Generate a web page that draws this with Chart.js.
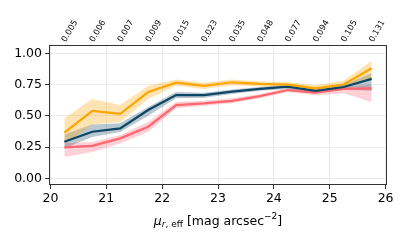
<!DOCTYPE html>
<html><head><meta charset="utf-8">
<script src="https://cdn.jsdelivr.net/npm/chart.js@4/dist/chart.umd.min.js"></script>
<style>html,body{margin:0;padding:0;background:#fff}#wrap{width:411px;height:247px}</style>
</head><body><div id="wrap"><canvas id="c" width="411" height="247"></canvas></div>
<script>
const xs = [20.25,20.75,21.25,21.75,22.25,22.75,23.25,23.75,24.25,24.75,25.25,25.75];
const topLabels = ["0.005","0.006","0.007","0.009","0.015","0.023","0.035","0.048","0.077","0.094","0.105","0.131"];
const xTicks = [20,21,22,23,24,25,26];
const yTicks = [0,0.25,0.5,0.75,1.0];

const orangeVal = [0.365,0.54,0.515,0.69,0.765,0.74,0.768,0.755,0.75,0.72,0.75,0.88];
const orangeHi  = [0.48,0.635,0.586,0.74,0.79,0.765,0.79,0.775,0.77,0.745,0.78,0.94];
const orangeLo  = [0.27,0.43,0.45,0.634,0.74,0.715,0.745,0.735,0.73,0.695,0.72,0.80];

const blueVal = [0.293,0.373,0.40,0.546,0.666,0.666,0.693,0.715,0.733,0.70,0.73,0.795];
const blueHi  = [0.35,0.43,0.44,0.57,0.69,0.685,0.71,0.73,0.75,0.72,0.75,0.84];
const blueLo  = [0.24,0.33,0.37,0.50,0.64,0.645,0.675,0.70,0.715,0.68,0.71,0.70];

const redVal = [0.248,0.26,0.32,0.413,0.586,0.60,0.62,0.658,0.706,0.685,0.715,0.72];
const redHi  = [0.28,0.29,0.345,0.45,0.61,0.62,0.64,0.675,0.72,0.70,0.735,0.75];
const redLo  = [0.17,0.21,0.28,0.37,0.56,0.58,0.60,0.64,0.69,0.665,0.68,0.61];

const pts = arr => arr.map((v,i)=>({x:xs[i],y:v}));
const FONT = 'DejaVu Sans';

function line(data,color){return {data:pts(data),borderColor:color,borderWidth:2.2,pointRadius:0,fill:false,tension:0};}
function bandHi(data){return {data:pts(data),borderWidth:0,borderColor:'rgba(0,0,0,0)',pointRadius:0,fill:false};}
function bandLo(data,color){return {data:pts(data),borderWidth:0,borderColor:'rgba(0,0,0,0)',pointRadius:0,fill:'-1',backgroundColor:color};}

const frame = {
  id:'frame',
  afterDraw(chart){
    const {ctx,chartArea:a}=chart;
    ctx.save();
    ctx.strokeStyle='#333';ctx.lineWidth=1;
    ctx.strokeRect(a.left+0.5,a.top+0.5,a.right-a.left-1,a.bottom-a.top-1);
    const st=chart.scales.xt;
    ctx.font='8.3px "'+FONT+'"';ctx.fillStyle='#000';ctx.textAlign='left';ctx.textBaseline='alphabetic';
    xs.forEach((v,i)=>{
      const px=st.getPixelForValue(v);
      ctx.save();ctx.translate(px+1.5,a.top-2.5);ctx.rotate(-60*Math.PI/180);
      ctx.fillText(topLabels[i],0,0);ctx.restore();
    });
    const cx=(a.left+a.right)/2, cy=222;
    const big='12.5px "'+FONT+'"', ital='italic 12.5px "'+FONT+'"', small='9px "'+FONT+'"', smallI='italic 9px "'+FONT+'"';
    const parts=[
      {t:'\u03bc',f:ital,dy:0},
      {t:'r',f:smallI,dy:3},
      {t:', eff',f:small,dy:3},
      {t:' [mag arcsec',f:big,dy:0},
      {t:'\u22122',f:small,dy:-5},
      {t:']',f:big,dy:0}
    ];
    let w=0;parts.forEach(p=>{ctx.font=p.f;p.w=ctx.measureText(p.t).width;w+=p.w;});
    let x=cx-w/2;
    ctx.fillStyle='#000';ctx.textBaseline='middle';ctx.textAlign='left';
    parts.forEach(p=>{ctx.font=p.f;ctx.fillText(p.t,x,cy+p.dy);x+=p.w;});
    ctx.restore();
  }
};

new Chart(document.getElementById('c'),{
  type:'line',
  data:{datasets:[
    line(orangeVal,'#FFA500'),
    line(blueVal,'#0B4662'),
    line(redVal,'#FF6670'),
    bandHi(orangeHi), bandLo(orangeLo,'rgba(255,170,20,0.33)'),
    bandHi(blueHi), bandLo(blueLo,'rgba(20,70,100,0.3)'),
    bandHi(redHi), bandLo(redLo,'rgba(255,100,115,0.3)')
  ]},
  options:{
    responsive:false,animation:false,
    layout:{padding:{left:0,right:24,top:0,bottom:0}},
    plugins:{legend:{display:false},tooltip:{enabled:false}},
    scales:{
      x:{type:'linear',position:'bottom',min:19.975,max:26.025,
        afterBuildTicks(s){s.ticks=xTicks.map(v=>({value:v}));},
        afterFit(s){s.height=62;},
        grid:{color:'#ebebeb',tickColor:'#333',tickLength:4,drawTicks:true},
        border:{display:false},
        ticks:{color:'#000',font:{family:FONT,size:12.5},padding:2,maxRotation:0,callback:v=>String(v)}
      },
      xt:{type:'linear',position:'top',min:19.975,max:26.025,
        afterBuildTicks(s){s.ticks=xs.map(v=>({value:v}));},
        afterFit(s){s.height=45;},
        grid:{display:false,drawTicks:false},
        border:{display:false},
        ticks:{display:false}
      },
      y:{type:'linear',min:-0.053,max:1.066,
        afterBuildTicks(s){s.ticks=yTicks.map(v=>({value:v}));},
        afterFit(s){s.width=49;},
        grid:{color:'#ebebeb',tickColor:'#333',tickLength:4},
        border:{display:false},
        ticks:{color:'#000',font:{family:FONT,size:12.5},padding:3,callback:v=>v.toFixed(2)}
      }
    }
  },
  plugins:[frame]
});
</script></body></html>
